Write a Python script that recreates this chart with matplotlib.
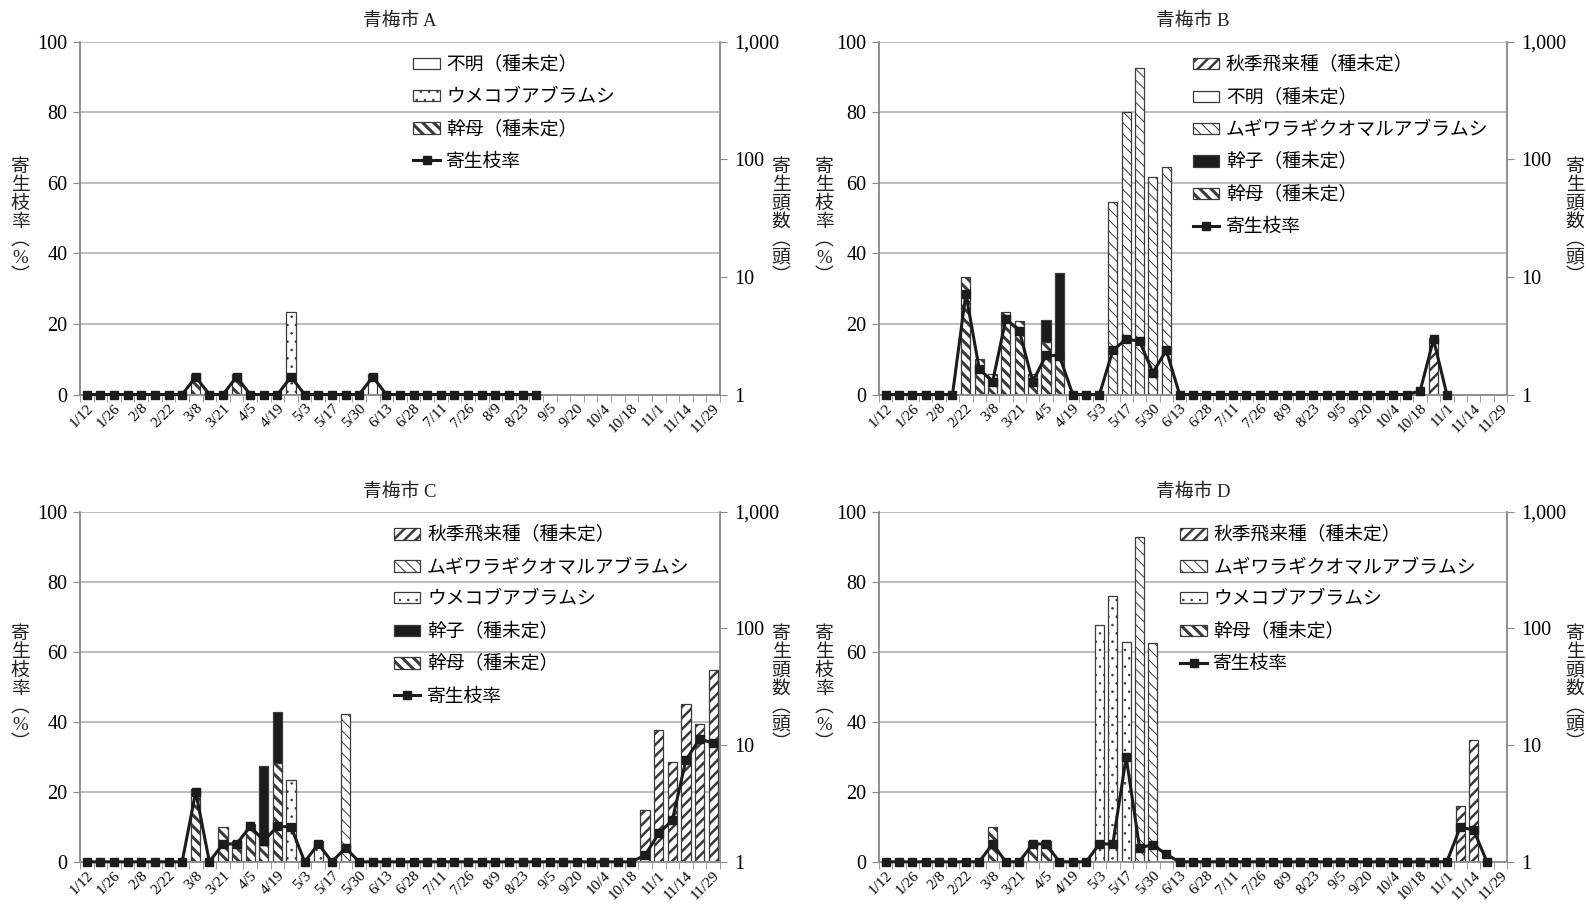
import matplotlib
matplotlib.use('Agg')
import matplotlib.pyplot as plt
from matplotlib.patches import Patch
from matplotlib.lines import Line2D
from matplotlib.transforms import blended_transform_factory
from matplotlib.ticker import NullLocator

plt.rcParams['font.family'] = ['Liberation Serif', 'Noto Sans CJK JP']
plt.rcParams['hatch.linewidth'] = 1.0

# survey dates (weekly); every other one is labelled on the axis
DATES = ['1/12', '1/19', '1/26', '2/1', '2/8', '2/15', '2/22', '3/1', '3/8', '3/14', '3/21', '3/29',
         '4/5', '4/12', '4/19', '4/26', '5/3', '5/10', '5/17', '5/24', '5/30', '6/6', '6/13', '6/21',
         '6/28', '7/4', '7/11', '7/19', '7/26', '8/2', '8/9', '8/16', '8/23', '8/30', '9/5', '9/13',
         '9/20', '9/27', '10/4', '10/11', '10/18', '10/25', '11/1', '11/7', '11/14', '11/21', '11/29']

# 寄生枝率 (%) per survey
rate_a = [0, 0, 0, 0, 0, 0, 0, 0, 5, 0, 0, 5, 0, 0, 0, 5, 0, 0, 0, 0, 0, 5, 0, 0, 0, 0, 0, 0, 0, 0,
          0, 0, 0, 0]
rate_b = [0, 0, 0, 0, 0, 0, 28.5, 7.3, 3.6, 21.4, 18.1, 3.6, 11.1, 11.0, 0, 0, 0, 12.5, 15.7, 15.1,
          6.2, 12.5, 0, 0, 0, 0, 0, 0, 0, 0, 0, 0, 0, 0, 0, 0, 0, 0, 0, 0, 1.0, 15.6, 0]
rate_c = [0, 0, 0, 0, 0, 0, 0, 0, 20.0, 0, 5.1, 5.1, 10.1, 6.0, 10.1, 10.0, 0, 5.1, 0, 4.0, 0, 0, 0,
          0, 0, 0, 0, 0, 0, 0, 0, 0, 0, 0, 0, 0, 0, 0, 0, 0, 0, 1.9, 8.1, 11.9, 29.1, 35.1, 33.9]
rate_d = [0, 0, 0, 0, 0, 0, 0, 0, 5.1, 0, 0, 5.1, 5.1, 0, 0, 0, 5.1, 5.1, 29.9, 4.0, 4.9, 2.1, 0, 0,
          0, 0, 0, 0, 0, 0, 0, 0, 0, 0, 0, 0, 0, 0, 0, 0, 0, 0, 0, 9.9, 9.1, 0]

# 寄生頭数 (頭) per type, only surveys with aphids found
kanbo_a = {'3/8': 1.5, '3/29': 1.5}
umekobu_a = {'4/26': 5}
fumei_a = {'6/6': 1.5}

kanbo_b = {'2/22': 10, '3/1': 2, '3/8': 1.5, '3/14': 5, '3/21': 4.2, '3/29': 1.5, '4/5': 2.8, '4/12': 2}
kanko_b = {'4/5': 1.5, '4/12': 8.7}
mugiwara_b = {'5/10': 43, '5/17': 250, '5/24': 600, '5/30': 70, '6/6': 85}
shuki_b = {'10/25': 3}

kanbo_c = {'3/8': 4.2, '3/21': 2, '3/29': 1.5, '4/5': 2.1, '4/12': 1.4, '4/19': 7}
kanko_c = {'4/12': 5.2, '4/19': 12.2}
umekobu_c = {'4/26': 5, '5/10': 1.5}
mugiwara_c = {'5/24': 18.4}
shuki_c = {'10/25': 2.8, '11/1': 13.5, '11/7': 7.2, '11/14': 22.5, '11/21': 15.3, '11/29': 44}

kanbo_d = {'3/8': 2, '3/29': 1.5, '4/5': 1.5}
umekobu_d = {'5/3': 107, '5/10': 189, '5/17': 76.5}
mugiwara_d = {'5/24': 612, '5/30': 75.5}
shuki_d = {'11/7': 3, '11/14': 11}

INK = '#1c1c1c'; EDGE = '#3a3a3a'; GRID = '#b8b8b8'; AX = '#8c8c8c'
STY = {
    'shuki':    dict(label='秋季飛来種（種未定）', fc='white', hatch='///', hlw=1.8),
    'fumei':    dict(label='不明（種未定）', fc='white', hatch=None, hlw=1.0),
    'mugiwara': dict(label='ムギワラギクオマルアブラムシ', fc='white', hatch='\\\\\\', hlw=0.7),
    'umekobu':  dict(label='ウメコブアブラムシ', fc='white', hatch='..', hlw=0.6),
    'kanko':    dict(label='幹子（種未定）', fc=INK, hatch=None, hlw=1.0),
    'kanbo':    dict(label='幹母（種未定）', fc='white', hatch='\\\\\\', hlw=2.2),
}
STACK = ['kanbo', 'kanko', 'umekobu', 'mugiwara', 'fumei', 'shuki']


def hatch_lw(p, lw):
    if hasattr(p, 'set_hatch_linewidth'):
        p.set_hatch_linewidth(lw)


def vlabel(x, y, s):
    fig.text(x / W, 1 - y / H, '\n'.join(s), ha='center', va='center', fontsize=13.5,
             linespacing=1.08, color='#222')


W, H = 1586, 906
fig = plt.figure(figsize=(W / 100, H / 100), dpi=100)


def panel(rect, title, rate, bars, order, leg_x):
    ax = fig.add_axes(rect)
    ax2 = ax.twinx()
    ax.set_zorder(ax2.get_zorder() + 1); ax.patch.set_visible(False)
    ax2.set_yscale('log'); ax2.set_ylim(1, 1000)
    ax.set_ylim(0, 100); ax.set_xlim(-0.5, len(DATES) - 0.5)
    # horizontal grid of the % axis, drawn beneath the bars
    ax2.hlines([20, 40, 60, 80, 100], 0, 1, transform=blended_transform_factory(ax2.transAxes, ax.transData),
               colors=GRID, lw=1.3, zorder=0.5)
    cum = [0.0] * len(DATES)
    for key in STACK:
        if key not in bars:
            continue
        s = STY[key]
        for i, d in enumerate(DATES):
            v = bars[key].get(d, 0)
            if v <= 0:
                continue
            lo = max(cum[i], 1.0); top = cum[i] + v
            b = ax2.bar(i, top - lo, bottom=lo, width=0.68, facecolor=s['fc'], edgecolor=EDGE,
                        linewidth=0.9, hatch=s['hatch'], zorder=1)
            hatch_lw(b[0], s['hlw'])
            cum[i] = top
    ax.plot(range(len(rate)), rate, color=INK, lw=2.2, marker='s', ms=6, zorder=3, clip_on=False)

    for a in (ax, ax2):
        a.spines['top'].set_visible(False)
        for sp in a.spines.values():
            sp.set_color(AX); sp.set_linewidth(1.1)
    ax.set_yticks([0, 20, 40, 60, 80, 100])
    ax.tick_params(axis='y', direction='out', length=5, color=AX, labelsize=14.5, pad=4)
    ax2.set_yticks([1, 10, 100, 1000], ['1', '10', '100', '1,000'])
    ax2.yaxis.set_minor_locator(NullLocator())
    ax2.tick_params(axis='y', direction='out', length=5, color=AX, labelsize=14.5, pad=5)
    ax.set_xticks(range(0, len(DATES), 2), DATES[::2], rotation=45, ha='right', rotation_mode='anchor')
    ax.set_xticks([i - 0.5 for i in range(len(DATES) + 1)], minor=True)
    ax.tick_params(axis='x', which='major', length=0, labelsize=11, pad=5)
    ax.tick_params(axis='x', which='minor', direction='out', length=5, color=AX)
    ax.set_title(title, fontsize=13.5, pad=11, color='#222')

    handles = []
    for key in order:
        if key == 'rate':
            handles.append(Line2D([], [], color=INK, lw=2.2, marker='s', ms=6, label='寄生枝率'))
        else:
            s = STY[key]
            handles.append(Patch(facecolor=s['fc'], edgecolor=EDGE, linewidth=0.9, hatch=s['hatch'],
                                 label=s['label']))
    leg = ax.legend(handles=handles, loc='upper left', bbox_to_anchor=(leg_x, 0.958), frameon=False,
                    fontsize=13.5, labelspacing=0.78, handlelength=1.4, handleheight=0.55,
                    handletextpad=0.35, borderaxespad=0, borderpad=0)
    for h, key in zip(leg.legend_handles, order):
        if key != 'rate':
            hatch_lw(h, STY[key]['hlw'])
    return ax


panel([80 / W, 1 - 394.5 / H, 640 / W, 353 / H], '青梅市 A', rate_a,
      {'kanbo': kanbo_a, 'umekobu': umekobu_a, 'fumei': fumei_a},
      ['fumei', 'umekobu', 'kanbo', 'rate'], 0.521)
panel([879 / W, 1 - 394.5 / H, 628 / W, 353 / H], '青梅市 B', rate_b,
      {'kanbo': kanbo_b, 'kanko': kanko_b, 'mugiwara': mugiwara_b, 'shuki': shuki_b},
      ['shuki', 'fumei', 'mugiwara', 'kanko', 'kanbo', 'rate'], 0.5)
panel([80 / W, 1 - 861.8 / H, 640 / W, 350 / H], '青梅市 C', rate_c,
      {'kanbo': kanbo_c, 'kanko': kanko_c, 'umekobu': umekobu_c, 'mugiwara': mugiwara_c, 'shuki': shuki_c},
      ['shuki', 'mugiwara', 'umekobu', 'kanko', 'kanbo', 'rate'], 0.491)
panel([879 / W, 1 - 861.8 / H, 628 / W, 350 / H], '青梅市 D', rate_d,
      {'kanbo': kanbo_d, 'umekobu': umekobu_d, 'mugiwara': mugiwara_d, 'shuki': shuki_d},
      ['shuki', 'mugiwara', 'umekobu', 'kanbo', 'rate'], 0.48)

left_lab = '寄生枝率︵%︶'
right_lab = '寄生頭数︵頭︶'
for x, y in [(20, 222), (20, 689), (824, 222), (824, 689)]:
    vlabel(x, y, left_lab)
for x, y in [(781, 222), (781, 689), (1575, 222), (1575, 689)]:
    vlabel(x, y, right_lab)

fig.savefig('out.png', dpi=100)
